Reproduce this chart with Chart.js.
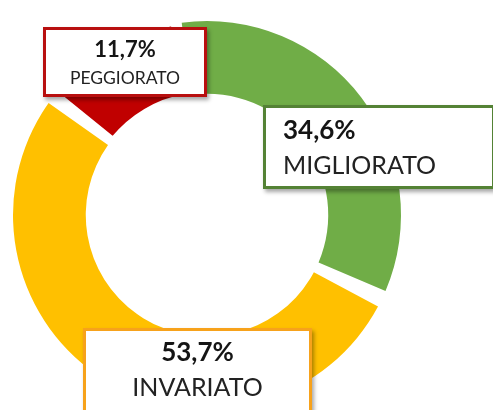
<!DOCTYPE html>
<html>
<head>
<meta charset="utf-8">
<script src="https://cdn.jsdelivr.net/npm/chart.js@4.4.1/dist/chart.umd.min.js"></script>
<style>
  html, body { margin: 0; padding: 0; background: #fff; overflow: hidden; }
  body { width: 493px; height: 410px; position: relative; font-family: Lato, "Open Sans", sans-serif; }
  #wrap { position: absolute; left: 0; top: 0; width: 493px; height: 420px; }
  .box { position: absolute; box-sizing: border-box; background: #fff; border: 3px solid; box-shadow: 2px 3px 4px rgba(0,0,0,0.35); }
  .box div { position: absolute; white-space: nowrap; line-height: 1; color: #222; }
  .pct { font-weight: 700; color: #151515 !important; }
  .lbl { font-weight: 400; color: #2a2a2a; }
</style>
</head>
<body>
<div id="wrap"><canvas id="chart"></canvas></div>

<script>
// data
const categories = ['MIGLIORATO', 'INVARIATO', 'PEGGIORATO'];
const values = [34.6, 53.7, 11.7];
const sliceColors = ['#70AD47', '#FFC000', '#C00000'];
const boxBorders = ['#548235', '#F7A21B', '#B80F0F'];

const chart = new Chart(document.getElementById('chart'), {
  type: 'doughnut',
  data: {
    labels: categories,
    datasets: [{
      data: values,
      backgroundColor: sliceColors,
      borderColor: '#ffffff',
      borderWidth: [0, 0, 4],
      spacing: 10
    }]
  },
  options: {
    responsive: true,
    maintainAspectRatio: false,
    animation: false,
    events: [],
    rotation: -9.5,
    cutout: '61.5%',
    layout: { padding: { left: 11, top: 19, right: 90, bottom: 9 } },
    plugins: {
      legend: { display: false },
      tooltip: { enabled: false }
    }
  }
});

// callout boxes, texts come from the arrays above
const fmt = v => v.toFixed(1).replace('.', ',') + '%';
const boxes = [
  // index, box left/top/width/height, align, pct size/top, label size/top, text left
  { i: 0, x: 263, y: 105, w: 232, h: 84, align: 'left', ps: 26, pt: 11.3, ls: 25, lt: 46.8, tx: 20 },
  { i: 1, x: 83, y: 328, w: 229, h: 100, align: 'center', ps: 26, pt: 10.3, ls: 25, lt: 46.3 },
  { i: 2, x: 43, y: 27, w: 164, h: 70, align: 'center', ps: 22, pt: 11.4, ls: 17.5, lt: 42.3 }
];

boxes.forEach(b => {
  const el = document.createElement('div');
  el.className = 'box';
  Object.assign(el.style, {
    left: b.x + 'px', top: b.y + 'px', width: b.w + 'px', height: b.h + 'px',
    borderColor: boxBorders[b.i]
  });
  const pct = document.createElement('div');
  pct.className = 'pct';
  pct.textContent = fmt(values[b.i]);
  const lbl = document.createElement('div');
  lbl.className = 'lbl';
  lbl.textContent = categories[b.i];
  pct.style.fontSize = b.ps + 'px';
  pct.style.top = (b.pt - 3) + 'px';
  lbl.style.fontSize = b.ls + 'px';
  lbl.style.top = (b.lt - 3) + 'px';
  [pct, lbl].forEach(t => {
    if (b.align === 'left') {
      t.style.left = (b.tx - 3) + 'px';
    } else {
      t.style.left = '0'; t.style.right = '0'; t.style.textAlign = 'center';
    }
    el.appendChild(t);
  });
  document.body.appendChild(el);
});
</script>
</body>
</html>
